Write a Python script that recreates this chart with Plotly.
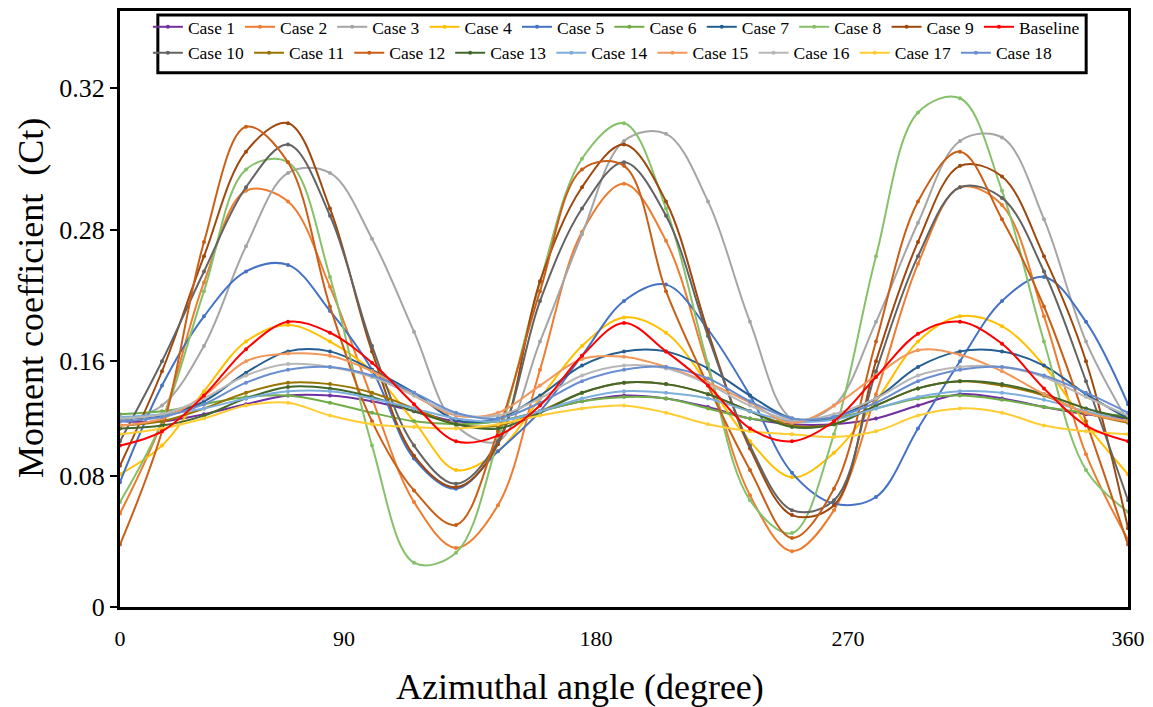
import numpy as np
import plotly.graph_objects as go

# ---------------- data ----------------
ANGLE = list(range(0, 361, 15))

CASE_1 = [0.118, 0.118, 0.123, 0.130, 0.136, 0.136, 0.132, 0.125, 0.118, 0.118, 0.125, 0.132, 0.136,
          0.134, 0.128, 0.120, 0.116, 0.116, 0.120, 0.129, 0.137, 0.134, 0.128, 0.123, 0.120]
CASE_2 = [0.057, 0.118, 0.232, 0.291, 0.288, 0.228, 0.134, 0.064, 0.036, 0.062, 0.154, 0.278, 0.293,
          0.270, 0.155, 0.068, 0.034, 0.059, 0.137, 0.249, 0.292, 0.287, 0.201, 0.095, 0.041]
CASE_3 = [0.118, 0.129, 0.174, 0.265, 0.296, 0.296, 0.272, 0.187, 0.115, 0.104, 0.178, 0.276, 0.305,
          0.307, 0.288, 0.196, 0.120, 0.129, 0.196, 0.282, 0.305, 0.306, 0.283, 0.178, 0.118]
CASE_4 = [0.081, 0.101, 0.139, 0.178, 0.193, 0.178, 0.153, 0.118, 0.084, 0.097, 0.134, 0.174, 0.200,
          0.186, 0.144, 0.104, 0.079, 0.096, 0.132, 0.178, 0.201, 0.192, 0.157, 0.116, 0.081]
CASE_5 = [0.076, 0.143, 0.201, 0.242, 0.248, 0.206, 0.154, 0.092, 0.072, 0.097, 0.125, 0.165, 0.215,
          0.230, 0.189, 0.136, 0.082, 0.063, 0.067, 0.113, 0.160, 0.215, 0.237, 0.196, 0.130]
CASE_6 = [0.123, 0.125, 0.130, 0.135, 0.136, 0.131, 0.124, 0.118, 0.116, 0.118, 0.125, 0.132, 0.135,
          0.134, 0.127, 0.120, 0.118, 0.120, 0.127, 0.134, 0.136, 0.133, 0.128, 0.124, 0.122]
CASE_7 = [0.120, 0.122, 0.132, 0.152, 0.169, 0.169, 0.154, 0.138, 0.119, 0.120, 0.136, 0.157, 0.169,
          0.169, 0.155, 0.136, 0.120, 0.121, 0.134, 0.156, 0.169, 0.169, 0.157, 0.137, 0.120]
CASE_8 = [0.064, 0.118, 0.224, 0.297, 0.299, 0.237, 0.101, 0.027, 0.033, 0.105, 0.232, 0.300, 0.310,
          0.286, 0.158, 0.065, 0.045, 0.109, 0.256, 0.313, 0.317, 0.291, 0.178, 0.084, 0.058]
CASE_9 = [0.087, 0.153, 0.256, 0.302, 0.310, 0.286, 0.169, 0.094, 0.073, 0.102, 0.233, 0.292, 0.304,
          0.288, 0.187, 0.099, 0.056, 0.062, 0.160, 0.269, 0.298, 0.295, 0.256, 0.160, 0.048]
BASELINE = [0.101, 0.111, 0.136, 0.171, 0.196, 0.186, 0.159, 0.130, 0.104, 0.108, 0.129, 0.165, 0.195,
            0.169, 0.143, 0.113, 0.104, 0.118, 0.149, 0.185, 0.196, 0.176, 0.141, 0.115, 0.104]
CASE_10 = [0.104, 0.160, 0.242, 0.292, 0.304, 0.284, 0.174, 0.101, 0.075, 0.104, 0.215, 0.286, 0.299,
           0.284, 0.183, 0.101, 0.059, 0.065, 0.153, 0.256, 0.292, 0.289, 0.242, 0.146, 0.065]
CASE_11 = [0.115, 0.118, 0.127, 0.138, 0.145, 0.144, 0.138, 0.127, 0.116, 0.115, 0.125, 0.138, 0.145,
           0.144, 0.137, 0.125, 0.115, 0.116, 0.129, 0.141, 0.146, 0.143, 0.136, 0.124, 0.117]
CASE_12 = [0.038, 0.111, 0.269, 0.309, 0.299, 0.210, 0.118, 0.071, 0.050, 0.111, 0.224, 0.297, 0.298,
           0.224, 0.143, 0.084, 0.042, 0.072, 0.178, 0.288, 0.302, 0.283, 0.210, 0.118, 0.038]
CASE_13 = [0.113, 0.115, 0.122, 0.134, 0.142, 0.141, 0.135, 0.125, 0.116, 0.113, 0.124, 0.138, 0.145,
           0.144, 0.137, 0.125, 0.114, 0.116, 0.129, 0.141, 0.146, 0.144, 0.137, 0.127, 0.120]
CASE_14 = [0.121, 0.123, 0.127, 0.134, 0.139, 0.139, 0.134, 0.127, 0.120, 0.118, 0.125, 0.134, 0.139,
           0.138, 0.134, 0.125, 0.118, 0.119, 0.127, 0.135, 0.139, 0.138, 0.133, 0.125, 0.118]
CASE_15 = [0.115, 0.120, 0.136, 0.160, 0.167, 0.165, 0.153, 0.136, 0.122, 0.124, 0.143, 0.162, 0.164,
           0.156, 0.145, 0.131, 0.117, 0.129, 0.150, 0.170, 0.166, 0.153, 0.137, 0.124, 0.118]
CASE_16 = [0.120, 0.123, 0.134, 0.150, 0.158, 0.156, 0.149, 0.136, 0.123, 0.122, 0.134, 0.150, 0.157,
           0.155, 0.144, 0.129, 0.119, 0.123, 0.134, 0.150, 0.156, 0.156, 0.149, 0.135, 0.122]
CASE_17 = [0.109, 0.113, 0.120, 0.129, 0.131, 0.122, 0.116, 0.114, 0.113, 0.116, 0.122, 0.127, 0.129,
           0.124, 0.116, 0.111, 0.109, 0.107, 0.111, 0.122, 0.127, 0.124, 0.115, 0.111, 0.109]
CASE_18 = [0.118, 0.121, 0.130, 0.145, 0.154, 0.156, 0.150, 0.138, 0.124, 0.120, 0.131, 0.146, 0.154,
           0.156, 0.148, 0.132, 0.120, 0.121, 0.131, 0.146, 0.154, 0.156, 0.150, 0.138, 0.124]

# axis labels as printed on the original figure
Y_TICK_LABELS = ["0", "0.08", "0.16", "0.28", "0.32"]
Y_TICK_VALUES = [0.0, 0.08, 0.16, 0.28, 0.32]
X_TICK_LABELS = ["0", "90", "180", "270", "360"]

# ---------------- scales ----------------
# the original value axis is printed with unevenly spaced labels; map values to it piecewise
Y_TICK_POS = [0, 132, 247, 379, 522]
X_TICK_POS = [0, 80, 170, 260, 360]


def yscale(vals):
    return np.interp(np.asarray(vals, dtype=float), Y_TICK_VALUES, Y_TICK_POS)


SERIES = [
    ("Case 1", CASE_1, "#7030A0", "legend"),
    ("Case 2", CASE_2, "#ED7D31", "legend"),
    ("Case 3", CASE_3, "#A5A5A5", "legend"),
    ("Case 4", CASE_4, "#FFC000", "legend"),
    ("Case 5", CASE_5, "#4472C4", "legend"),
    ("Case 6", CASE_6, "#70AD47", "legend"),
    ("Case 7", CASE_7, "#255E91", "legend"),
    ("Case 8", CASE_8, "#86C16A", "legend"),
    ("Case 9", CASE_9, "#9E480E", "legend"),
    ("Case 10", CASE_10, "#636363", "legend2"),
    ("Case 11", CASE_11, "#997300", "legend2"),
    ("Case 12", CASE_12, "#C95F17", "legend2"),
    ("Case 13", CASE_13, "#43682B", "legend2"),
    ("Case 14", CASE_14, "#7CAFDD", "legend2"),
    ("Case 15", CASE_15, "#F1975A", "legend2"),
    ("Case 16", CASE_16, "#B7B7B7", "legend2"),
    ("Case 17", CASE_17, "#FFCD33", "legend2"),
    ("Case 18", CASE_18, "#698ED0", "legend2"),
    ("Baseline", BASELINE, "#FF0000", "legend"),
]

SERIF = "Liberation Serif, Times New Roman, serif"

fig = go.Figure()
for name, vals, color, leg in SERIES:
    fig.add_trace(go.Scatter(
        x=ANGLE, y=yscale(vals), name=name, mode="lines+markers",
        line=dict(color=color, width=2, shape="spline"),
        marker=dict(color=color, size=4),
        legend=leg,
    ))

W, H = 1153, 707
ML, MR, MT, MB = 120, 21, 8, 100
PW, PH = W - ML - MR, H - MT - MB


def px_x(x):
    return (x - ML) / PW


def px_y(y):
    return (H - MB - y) / PH


fig.update_layout(
    width=W, height=H,
    margin=dict(l=ML, r=MR, t=MT, b=MB),
    paper_bgcolor="white", plot_bgcolor="white",
    font=dict(family=SERIF, color="black"),
    xaxis=dict(
        range=[0, 360], showgrid=False, zeroline=False,
        showline=True, linecolor="black", linewidth=3, mirror=True,
        tickvals=X_TICK_POS, ticktext=X_TICK_LABELS, ticks="",
        tickfont=dict(family=SERIF, size=22, color="black"),
        ticklabelstandoff=10,
    ),
    yaxis=dict(
        range=[0, PH], showgrid=False, zeroline=False,
        showline=True, linecolor="black", linewidth=3, mirror=True,
        tickvals=Y_TICK_POS, ticktext=Y_TICK_LABELS, ticks="outside",
        ticklen=7, tickwidth=2, tickcolor="black",
        tickfont=dict(family=SERIF, size=26, color="black"),
    ),
    legend=dict(
        orientation="h", x=px_x(148), xanchor="left", y=px_y(24), yanchor="middle",
        bgcolor="rgba(0,0,0,0)", borderwidth=0,
        font=dict(family=SERIF, size=17.5, color="black"),
        itemclick=False, itemdoubleclick=False,
    ),
    legend2=dict(
        orientation="h", x=px_x(148), xanchor="left", y=px_y(50), yanchor="middle",
        bgcolor="rgba(0,0,0,0)", borderwidth=0,
        font=dict(family=SERIF, size=17.5, color="black"),
        itemclick=False, itemdoubleclick=False,
    ),
    showlegend=True,
)

# legend frame
fig.add_shape(type="rect", xref="paper", yref="paper",
              x0=px_x(158), x1=px_x(1090), y0=px_y(70), y1=px_y(12),
              line=dict(color="black", width=3), fillcolor="rgba(0,0,0,0)", layer="above")

# axis titles
fig.add_annotation(text="Azimuthal angle (degree)", xref="paper", yref="paper",
                   x=px_x(582), y=px_y(687), xanchor="center", yanchor="middle",
                   showarrow=False, font=dict(family=SERIF, size=36, color="black"))
fig.add_annotation(text="Moment coefficient  (Ct)", xref="paper", yref="paper",
                   x=px_x(30), y=px_y(296), xanchor="center", yanchor="middle", textangle=-90,
                   showarrow=False, font=dict(family=SERIF, size=36, color="black"))

fig.write_html("out.html")
